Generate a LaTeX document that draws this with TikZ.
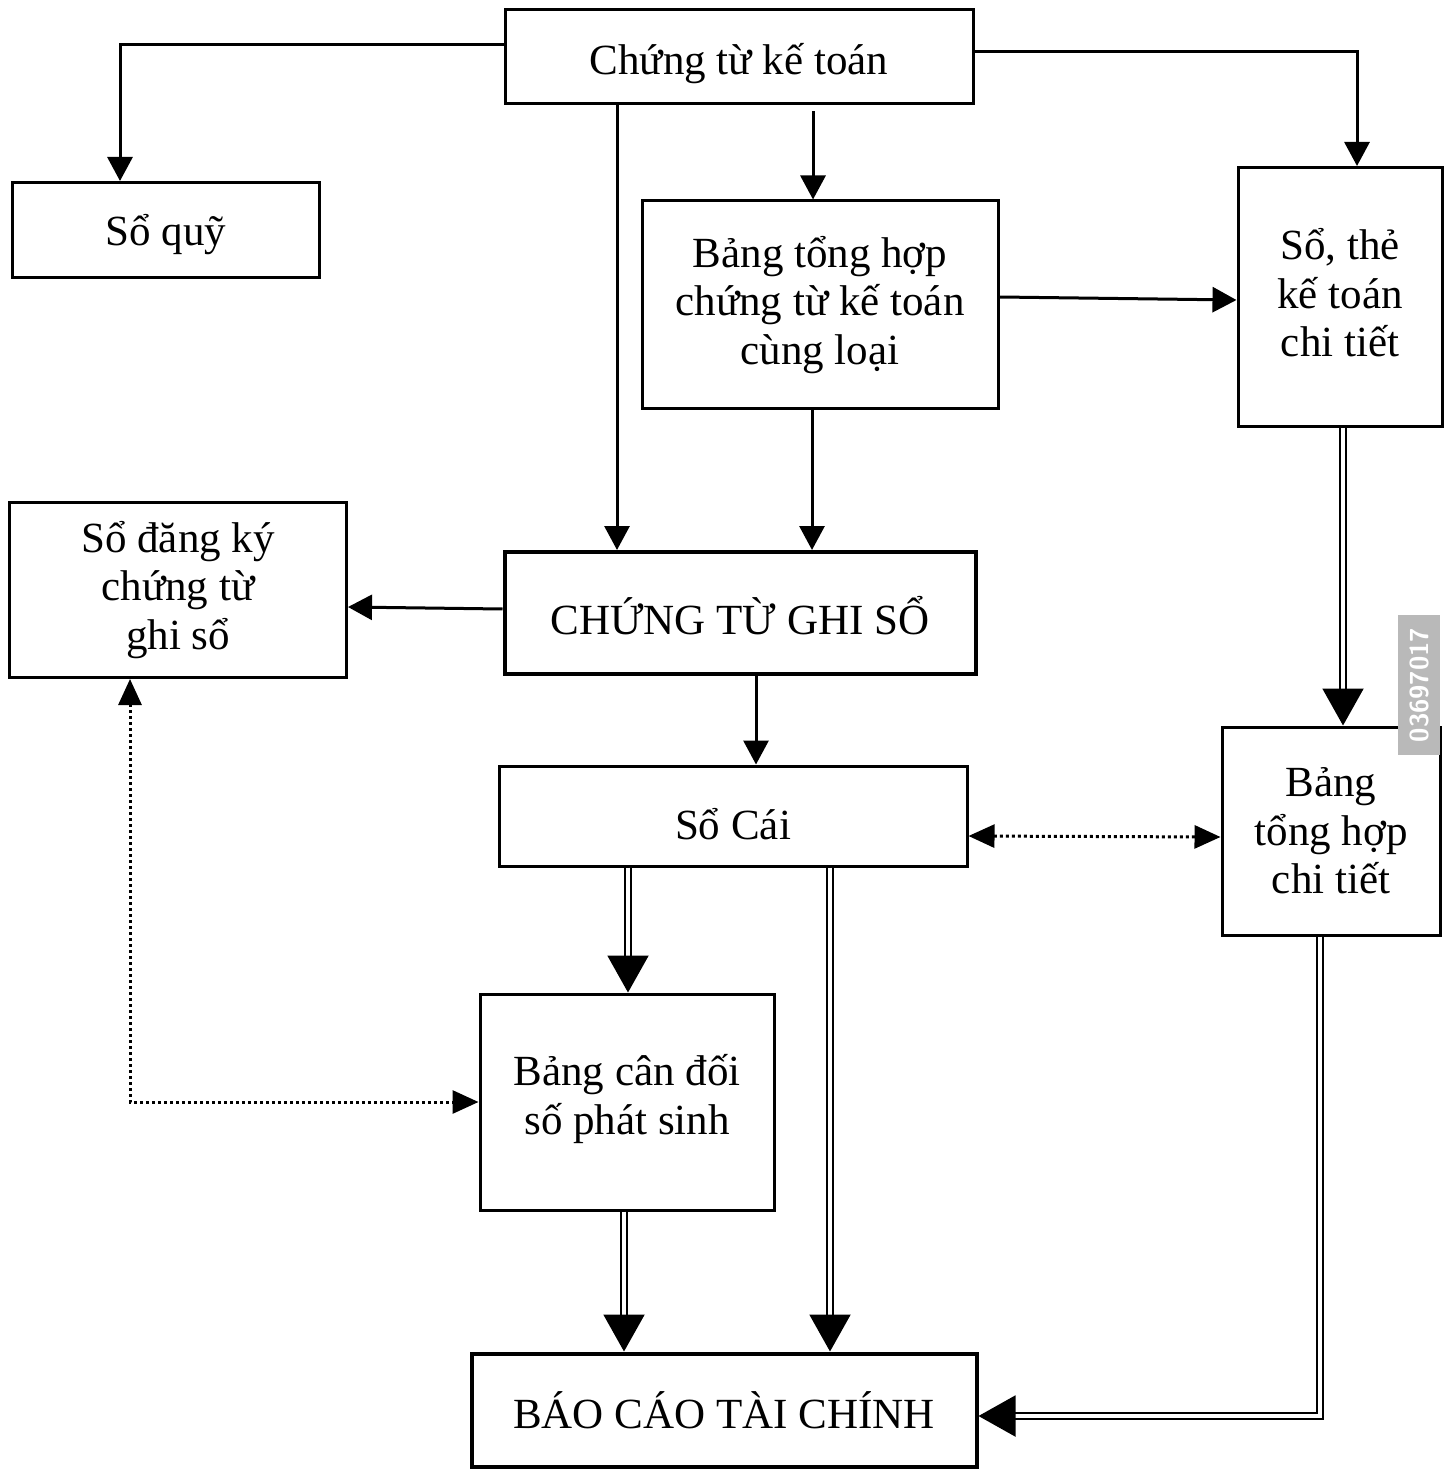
\documentclass[tikz,border=0pt]{standalone}
\usepackage{fontspec}
\setmainfont{Liberation Serif}
\usetikzlibrary{arrows.meta,calc}
\newcommand{\lowertext}[2]{\raisebox{-#1}[\height][\depth]{#2}}
\begin{document}
\begin{tikzpicture}[x=0.5pt,y=-0.5pt,
  box/.style={draw,line width=1.5pt,align=center,inner sep=0pt,
    font=\fontsize{21.5}{24.3}\selectfont},
  thickbox/.style={box,line width=2pt},
  arr/.style={line width=1.5pt,-{Triangle[width=12.5pt,length=12pt]}},
  dbl/.style={line width=1pt,double,double distance=2pt,
    -{Triangle[width=20.5pt,length=18.5pt]}},
  dots/.style={line width=1.5pt,dash pattern=on 1.5pt off 1.5pt,
    {Triangle[width=11.5pt,length=13pt]}-{Triangle[width=11.5pt,length=13pt]}},
  wmark/.style={fill=gray!55,text=white,font=\sffamily\bfseries\fontsize{13}{13}\selectfont,
    inner sep=0pt,minimum width=70pt,minimum height=21pt,rotate=90}
]
\useasboundingbox (0,0) rectangle (1452,1470);
\fill[white] (0,0) rectangle (1452,1470);

\node[box,minimum width=234pt,minimum height=47pt] (ctkt) at (739,57) {\lowertext{3.5pt}{Chứng từ kế toán}};
\node[box,minimum width=153.5pt,minimum height=47.5pt] (soquy) at (166,230) {\lowertext{2.5pt}{Sổ quỹ}};
\node[box,minimum width=178pt,minimum height=104pt] (bth) at (820,305) {Bảng tổng hợp\\chứng từ kế toán\\cùng loại};
\node[box,minimum width=102pt,minimum height=129.5pt] (sothe) at (1340,297) {Sổ, thẻ\\kế toán\\chi tiết\\[-20pt]};
\node[box,minimum width=168.5pt,minimum height=87.5pt] (sodk) at (178,590) {Sổ đăng ký\\chứng từ\\ghi sổ};
\node[thickbox,minimum width=235.5pt,minimum height=61pt] (ctgs) at (740,613) {\lowertext{1.5pt}{CHỨNG TỪ GHI SỔ}};
\node[box,minimum width=234pt,minimum height=50pt] (socai) at (733,816) {\lowertext{4pt}{Sổ Cái}};
\node[box,minimum width=109pt,minimum height=104pt] (bthct) at (1331,831) {Bảng\\tổng hợp\\chi tiết};
\node[box,minimum width=147pt,minimum height=108pt] (bcd) at (627,1102) {Bảng cân đối\\số phát sinh\\[-17pt]};
\node[thickbox,minimum width=252.5pt,minimum height=56.5pt] (bctc) at (724,1410) {BÁO CÁO TÀI CHÍNH};

\node[wmark] (wm) at (1419,685) {03697017};

\coordinate (x1) at (813,0);
\coordinate (x2) at (617,0);
\coordinate (x3) at (812,0);
\coordinate (x4) at (756,0);
\coordinate (x5) at (1343,0);
\coordinate (x6) at (628,0);
\coordinate (x7) at (830,0);
\coordinate (x8) at (624,0);
\coordinate (x9) at (1320,0);
\coordinate (c1) at (1320,1416);
\coordinate (c2) at (130,1102);

\draw[arr] ([shift={(0,-12)}]ctkt.west) -| ([shift={(-46,0)}]soquy.north);
\draw[arr] ([shift={(0,-5)}]ctkt.east) -| ([shift={(17,0)}]sothe.north);
\draw[arr] ([shift={(0,6)}]ctkt.south -| x1) -- (bth.north -| x1);
\draw[arr] (ctkt.south -| x2) -- (ctgs.north -| x2);
\draw[arr] (bth.south -| x3) -- (ctgs.north -| x3);
\draw[arr] ([shift={(0,-8)}]bth.east) -- ([shift={(0,3)}]sothe.west);
\draw[arr] ([shift={(0,-4)}]ctgs.west) -- ([shift={(0,17)}]sodk.east);
\draw[arr] (ctgs.south -| x4) -- (socai.north -| x4);
\draw[dbl] (sothe.south -| x5) -- (bthct.north -| x5);
\draw[dots] ([shift={(0,20)}]socai.east) -- ([shift={(0,6)}]bthct.west);
\draw[dbl] (socai.south -| x6) -- (bcd.north -| x6);
\draw[dbl] (socai.south -| x7) -- (bctc.north -| x7);
\draw[dbl] (bcd.south -| x8) -- (bctc.north -| x8);
\draw[dbl] (bthct.south -| x9) -- (c1) -- (bctc.east |- c1);
\draw[dots] ([shift={(-48,0)}]sodk.south) -- (c2) -- (bcd.west |- c2);
\end{tikzpicture}
\end{document}
